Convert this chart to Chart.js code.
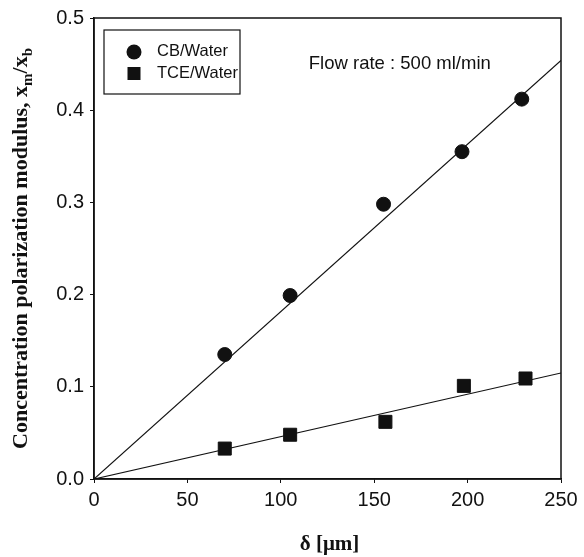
<!DOCTYPE html>
<html>
<head>
<meta charset="utf-8">
<script src="https://cdn.jsdelivr.net/npm/chart.js@4"></script>
<style>
    body { margin: 0; background: #ffffff; }
    canvas { display: block; }
</style>
</head>
<body>
<canvas id="grafico" width="584" height="557"></canvas>
<script>
// dados
const espessuraCB = [70, 105, 155, 197, 229];
const moduloCB = [0.135, 0.199, 0.298, 0.355, 0.412];
const espessuraTCE = [70, 105, 156, 198, 231];
const moduloTCE = [0.033, 0.048, 0.062, 0.101, 0.109];
const ajusteX = [0, 250];
const ajusteCB = [0, 0.454];
const ajusteTCE = [0, 0.115];
const ticksX = [0, 50, 100, 150, 200, 250];
const ticksY = [0.0, 0.1, 0.2, 0.3, 0.4, 0.5];
const nomesSeries = ["CB/Water", "TCE/Water"];
const notaCaudal = "Flow rate : 500 ml/min";

function pontos(xs, ys) {
    return xs.map(function (x, i) {
        return { x: x, y: ys[i] };
    });
}

const fonteSans = "'Liberation Sans', Arial, sans-serif";
const fonteSerif = "'Liberation Serif', 'Times New Roman', serif";

// moldura, legenda, nota e titulos dos eixos
const extras = {
    id: "extras",
    afterDraw: function (chart) {
        const ctx = chart.ctx;
        const area = chart.chartArea;
        const sx = chart.scales.x;
        const sy = chart.scales.y;

        ctx.save();
        ctx.strokeStyle = "#111";
        ctx.lineWidth = 1.5;
        ctx.strokeRect(area.left, area.top, area.right - area.left, area.bottom - area.top);

        // legenda
        const lx = area.left + 10;
        const ly = area.top + 12;
        ctx.lineWidth = 1.2;
        ctx.strokeRect(lx, ly, 136, 64);
        ctx.fillStyle = "#111";
        ctx.beginPath();
        ctx.arc(lx + 30, ly + 22, 7.5, 0, Math.PI * 2);
        ctx.fill();
        ctx.fillRect(lx + 23.5, ly + 37, 13, 13);
        ctx.font = "16.5px " + fonteSans;
        ctx.textBaseline = "middle";
        ctx.textAlign = "left";
        ctx.fillText(nomesSeries[0], lx + 53, ly + 21);
        ctx.fillText(nomesSeries[1], lx + 53, ly + 43);

        // nota do caudal
        ctx.font = "18.5px " + fonteSans;
        ctx.textBaseline = "alphabetic";
        ctx.fillText(notaCaudal, sx.getPixelForValue(115), sy.getPixelForValue(0.445));

        // titulo eixo x
        ctx.font = "bold 21px " + fonteSerif;
        ctx.textAlign = "center";
        ctx.fillText("\u03b4 [\u03bcm]", (area.left + area.right) / 2 + 2, 550);

        // titulo eixo y com indices
        const grande = "bold 22px " + fonteSerif;
        const pequena = "bold 15px " + fonteSerif;
        const partes = [
            { t: "Concentration polarization modulus, x", f: grande, d: 0 },
            { t: "m", f: pequena, d: 5 },
            { t: "/x", f: grande, d: 0 },
            { t: "b", f: pequena, d: 5 }
        ];
        let total = 0;
        partes.forEach(function (p) {
            ctx.font = p.f;
            p.w = ctx.measureText(p.t).width;
            total += p.w;
        });
        ctx.translate(27, (area.top + area.bottom) / 2);
        ctx.rotate(-Math.PI / 2);
        ctx.textAlign = "left";
        let pos = -total / 2;
        partes.forEach(function (p) {
            ctx.font = p.f;
            ctx.fillText(p.t, pos, p.d);
            pos += p.w;
        });
        ctx.restore();
    }
};

new Chart(document.getElementById("grafico"), {
    type: "scatter",
    data: {
        datasets: [
            {
                label: nomesSeries[0],
                data: pontos(espessuraCB, moduloCB),
                pointStyle: "circle",
                pointRadius: 7,
                borderWidth: 1,
                backgroundColor: "#111",
                borderColor: "#111"
            },
            {
                label: nomesSeries[1],
                data: pontos(espessuraTCE, moduloTCE),
                pointStyle: "rect",
                pointRadius: 9.2,
                borderWidth: 1,
                backgroundColor: "#111",
                borderColor: "#111"
            },
            {
                type: "line",
                label: "ajuste CB",
                data: pontos(ajusteX, ajusteCB),
                showLine: true,
                pointRadius: 0,
                borderWidth: 1.2,
                borderColor: "#111"
            },
            {
                type: "line",
                label: "ajuste TCE",
                data: pontos(ajusteX, ajusteTCE),
                showLine: true,
                pointRadius: 0,
                borderWidth: 1.2,
                borderColor: "#111"
            }
        ]
    },
    options: {
        responsive: false,
        animation: false,
        layout: {
            padding: { left: 0, top: 15, right: 23, bottom: 0 }
        },
        plugins: {
            legend: { display: false },
            tooltip: { enabled: false }
        },
        scales: {
            x: {
                type: "linear",
                min: 0,
                max: 250,
                afterBuildTicks: function (scale) {
                    scale.ticks = ticksX.map(function (v) { return { value: v }; });
                },
                afterFit: function (scale) {
                    scale.height = 78;
                },
                ticks: {
                    color: "#111",
                    padding: 5,
                    font: { family: fonteSans, size: 20 },
                    callback: function (v) { return v; }
                },
                grid: {
                    drawOnChartArea: false,
                    tickLength: 4,
                    color: "#111"
                },
                border: { color: "#111", width: 1.5 }
            },
            y: {
                min: 0,
                max: 0.5,
                afterBuildTicks: function (scale) {
                    scale.ticks = ticksY.map(function (v) { return { value: v }; });
                },
                afterFit: function (scale) {
                    scale.width = 94;
                },
                ticks: {
                    color: "#111",
                    padding: 6,
                    font: { family: fonteSans, size: 20 },
                    callback: function (v) { return v.toFixed(1); }
                },
                grid: {
                    drawOnChartArea: false,
                    tickLength: 4,
                    color: "#111"
                },
                border: { color: "#111", width: 1.5 }
            }
        }
    },
    plugins: [extras]
});
</script>
</body>
</html>
